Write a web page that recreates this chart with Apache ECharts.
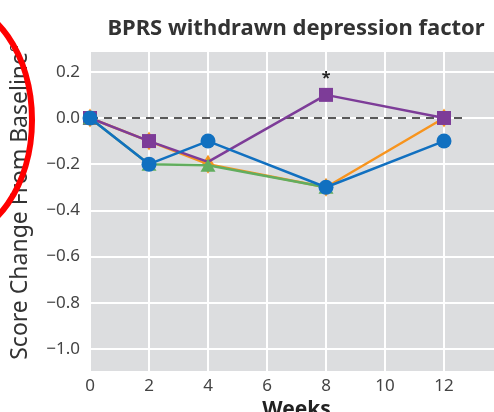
<!DOCTYPE html>
<html><head><meta charset="utf-8">
<script src="https://cdn.jsdelivr.net/npm/echarts@6/dist/echarts.min.js"></script>
<style>html,body{margin:0;padding:0;background:#fff}#c{width:494px;height:412px}</style>
</head><body><div id="c"></div>
<script>
var weeks = [0, 2, 4, 8, 12];
var blueVals = [0, -0.2, -0.1, -0.3, -0.1];
var purpleVals = [0, -0.1, -0.19, 0.1, 0.0];
var orangeVals = [0, -0.1, -0.2, -0.3, 0.0];
var greenWeeks = [0, 2, 4, 8];
var greenVals = [0, -0.2, -0.205, -0.3];
var purpleStars = ['', '', '', '*', ''];
var refLineX = [0, 12.8];
var refLineY = [0, 0];
var xTicks = [0, 2, 4, 6, 8, 10, 12];
var yTicks = [0.2, 0.0, -0.2, -0.4, -0.6, -0.8, -1.0];

var FONT = '"Noto Sans", "Open Sans", sans-serif';
function pairs(xs, ys) { return xs.map(function (x, i) { return [x, ys[i]]; }); }

var chart = echarts.init(document.getElementById('c'), null, {renderer: 'canvas'});
var lineW = 2.5;
chart.setOption({
  animation: false,
  title: {
    text: 'BPRS withdrawn depression factor',
    left: 291, textAlign: 'center', top: 13,
    textStyle: {fontFamily: FONT, fontSize: 22, fontWeight: 'bold', color: '#333'}
  },
  grid: {left: 90, top: 51, right: -9, bottom: 40, show: true, backgroundColor: '#dcdddf', borderWidth: 0,
    outerBoundsMode: 'none', containLabel: false},
  xAxis: {
    type: 'value', min: 0, max: 14, interval: 2,
    axisLine: {show: false}, axisTick: {show: false},
    splitLine: {show: true, lineStyle: {color: '#ffffff', width: 2}},
    axisLabel: {margin: 6, fontFamily: FONT, fontSize: 17, color: '#444',
      formatter: function (v) { return xTicks.indexOf(v) >= 0 ? String(v) : ''; }},
    name: 'Weeks', nameLocation: 'middle', nameGap: 22,
    nameTextStyle: {fontFamily: FONT, fontSize: 21, fontWeight: 'bold', color: '#222'}
  },
  yAxis: {
    type: 'value', min: -1.1, max: 0.29, splitNumber: 7,
    axisLine: {show: false}, axisTick: {show: false},
    splitLine: {show: true, lineStyle: {color: '#ffffff', width: 2}},
    axisLabel: {margin: 10, fontFamily: FONT, fontSize: 17, color: '#444',
      showMinLabel: false, showMaxLabel: false,
      formatter: function (v) {
        var ok = yTicks.some(function (t) { return Math.abs(t - v) < 1e-6; });
        if (!ok) return '';
        return v.toFixed(1).replace('-', '\u2212');
      }},
    name: 'Score Change From Baseline{sup|c}', nameLocation: 'middle', nameGap: 57,
    nameTextStyle: {fontFamily: FONT, fontSize: 23, color: '#333', padding: [0, 0, 0, 18],
      rich: {sup: {fontFamily: FONT, fontSize: 14, color: '#333', verticalAlign: 'top', padding: [0, 0, 12, 0]}}}
  },
  graphic: [{
    type: 'ellipse', z: 100,
    shape: {cx: -50, cy: 120, rx: 82, ry: 118},
    style: {fill: 'none', stroke: '#ff0000', lineWidth: 6}
  }],
  series: [
    {type: 'line', data: pairs(refLineX, refLineY), symbol: 'none', z: 1,
      lineStyle: {color: '#222', width: 1.5, type: [8, 6]}},
    {type: 'line', data: pairs(weeks, orangeVals), z: 2, symbol: 'diamond', symbolSize: [12, 19],
      itemStyle: {color: '#f7941e'}, lineStyle: {color: '#f7941e', width: lineW}},
    {type: 'line', z: 3, symbol: 'rect', symbolSize: 14,
      data: pairs(weeks, purpleVals).map(function (p, i) {
        var d = {value: p};
        if (i === 2) d.symbolSize = 0;
        if (purpleStars[i]) d.label = {show: true, position: 'top', distance: 1, formatter: purpleStars[i],
          fontFamily: FONT, fontSize: 16, fontWeight: 'bold', color: '#222'};
        return d;
      }),
      itemStyle: {color: '#7d3c98'}, lineStyle: {color: '#7d3c98', width: lineW}},
    {type: 'line', data: pairs(greenWeeks, greenVals), z: 4, symbol: 'triangle', symbolSize: [15, 13],
      itemStyle: {color: '#62ad5f'}, lineStyle: {color: '#62ad5f', width: lineW}},
    {type: 'line', data: pairs(weeks, blueVals), z: 5, symbol: 'circle', symbolSize: 15,
      itemStyle: {color: '#1170c0'}, lineStyle: {color: '#1170c0', width: lineW}}
  ]
});
</script></body></html>
